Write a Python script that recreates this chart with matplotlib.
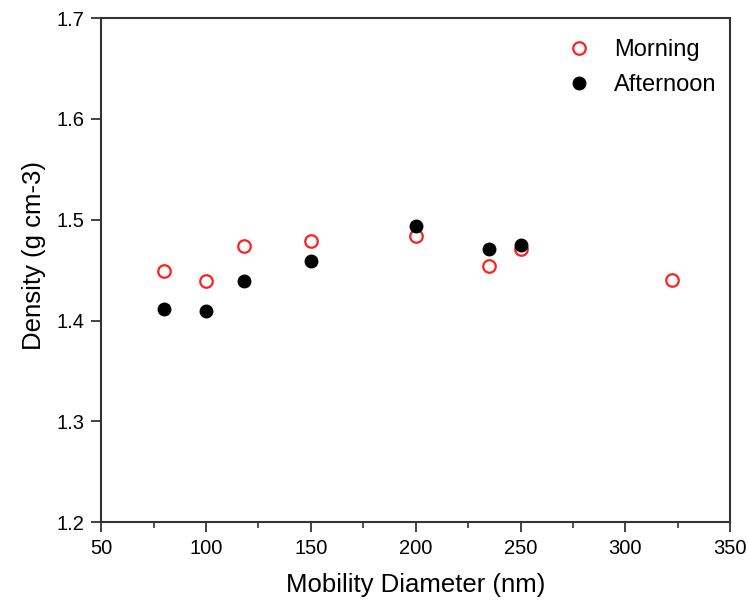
import matplotlib
matplotlib.use("Agg")
import matplotlib.pyplot as plt
from matplotlib.ticker import MultipleLocator

plt.rcParams['font.family'] = ['Liberation Sans', 'DejaVu Sans']

# data
morning_x = [80, 100, 118, 150, 200, 235, 250, 322]
morning_y = [1.449, 1.439, 1.474, 1.479, 1.484, 1.454, 1.471, 1.440]
afternoon_x = [80, 100, 118, 150, 200, 235, 250]
afternoon_y = [1.411, 1.409, 1.439, 1.459, 1.494, 1.471, 1.475]

fig = plt.figure(figsize=(7.49, 6.03), dpi=100)
ax = fig.add_axes([0.135, 0.134, 0.840, 0.836])

ax.plot(morning_x, morning_y, linestyle='none', marker='o', markersize=9,
        markerfacecolor='none', markeredgecolor='#ff2020', markeredgewidth=1.6,
        label='Morning')
ax.plot(afternoon_x, afternoon_y, linestyle='none', marker='o', markersize=9,
        markerfacecolor='black', markeredgecolor='black', label='Afternoon')

ax.set_xlim(50, 350)
ax.set_ylim(1.2, 1.7)
ax.xaxis.set_major_locator(MultipleLocator(50))
ax.xaxis.set_minor_locator(MultipleLocator(25))
ax.yaxis.set_major_locator(MultipleLocator(0.1))
ax.tick_params(which='major', direction='out', length=7, width=1.3, labelsize=14.5,
               color='#333333', pad=5)
ax.tick_params(which='minor', direction='out', length=4, width=1.2, color='#333333')
for s in ax.spines.values():
    s.set_linewidth(1.5)
    s.set_color('#333333')

ax.set_xlabel('Mobility Diameter (nm)', fontsize=18.5, labelpad=11)
ax.set_ylabel('Density (g cm-3)', fontsize=18.5)
ax.yaxis.set_label_coords(-0.088, 0.53)

ax.legend(loc='upper right', bbox_to_anchor=(1.016, 1.005), frameon=False,
          fontsize=17, handletextpad=0.7, borderaxespad=0.6, labelspacing=0.55,
          handlelength=1.6)

fig.savefig('out.png', dpi=100)
